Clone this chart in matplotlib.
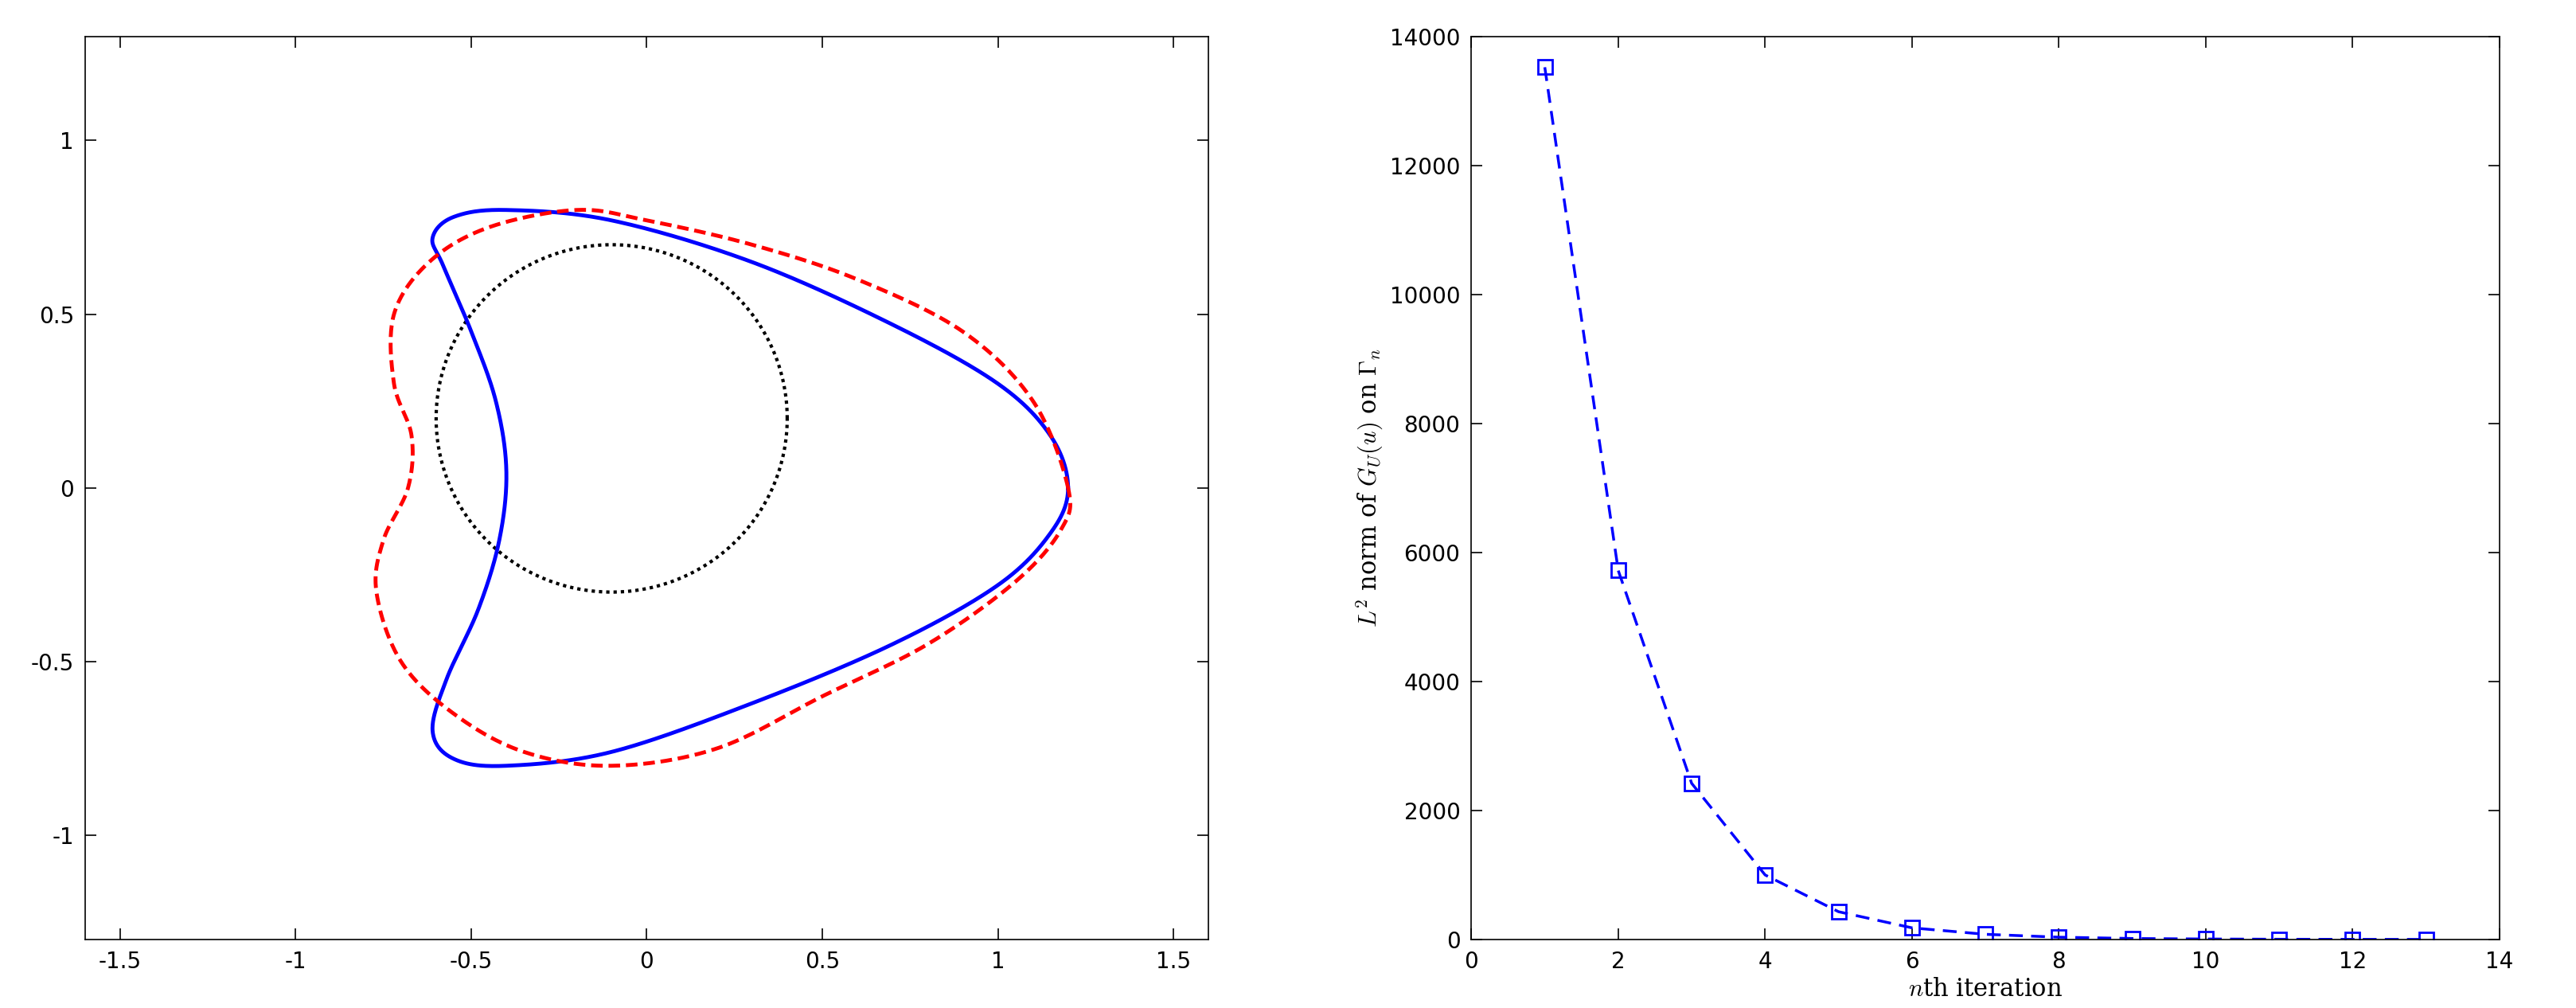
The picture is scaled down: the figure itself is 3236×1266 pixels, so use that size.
import numpy as np
import matplotlib
matplotlib.use("Agg")
import matplotlib.pyplot as plt

plt.rcParams['mathtext.fontset'] = 'cm'

# Circle (black dotted)
circle_center = (-0.1, 0.2)
circle_radius = 0.5

# Blue solid curve control points
blue_x = [1.2, 1.15, 1.0, 0.7, 0.3, -0.1, -0.4, -0.55, -0.61, -0.58, -0.5, -0.43, -0.4, -0.42, -0.48, -0.57, -0.61, -0.55, -0.4, -0.1, 0.3, 0.7, 1.0, 1.15]
blue_y = [0.0, 0.15, 0.3, 0.47, 0.65, 0.77, 0.8, 0.78, 0.72, 0.64, 0.45, 0.25, 0.05, -0.15, -0.35, -0.55, -0.7, -0.78, -0.8, -0.76, -0.62, -0.45, -0.28, -0.13]

# Red dashed curve control points
red_x = [1.2, 1.1, 0.9, 0.6, 0.3, 0.0, -0.2, -0.45, -0.62, -0.72, -0.72, -0.67, -0.68, -0.75, -0.77, -0.7, -0.55, -0.35, -0.1, 0.2, 0.5, 0.8, 1.05, 1.18]
red_y = [0.0, 0.25, 0.45, 0.6, 0.7, 0.77, 0.8, 0.75, 0.65, 0.5, 0.3, 0.15, 0.0, -0.15, -0.3, -0.5, -0.65, -0.76, -0.8, -0.75, -0.6, -0.45, -0.27, -0.12]

# Right panel
iterations = [1, 2, 3, 4, 5, 6, 7, 8, 9, 10, 11, 12, 13]
norms = [13520, 5720, 2420, 1000, 430, 180, 80, 35, 15, 7, 3, 1.5, 0.7]


def closed_spline(xs, ys, n=40):
    P = np.column_stack([xs, ys])
    N = len(P)
    out = []
    t = np.linspace(0, 1, n, endpoint=False)[:, None]
    for i in range(N):
        p0, p1, p2, p3 = P[i - 1], P[i], P[(i + 1) % N], P[(i + 2) % N]
        seg = 0.5 * ((2 * p1) + (-p0 + p2) * t + (2 * p0 - 5 * p1 + 4 * p2 - p3) * t ** 2
                     + (-p0 + 3 * p1 - 3 * p2 + p3) * t ** 3)
        out.append(seg)
    out = np.vstack(out)
    out = np.vstack([out, out[:1]])
    return out[:, 0], out[:, 1]


fig = plt.figure(figsize=(32.37, 12.66), dpi=100)
ax1 = fig.add_axes([0.033, 0.068, 0.436, 0.896])
ax2 = fig.add_axes([0.571, 0.068, 0.399, 0.896])

th = np.linspace(0, 2 * np.pi, 400)
ax1.plot(circle_center[0] + circle_radius * np.cos(th), circle_center[1] + circle_radius * np.sin(th),
         color='black', linestyle=(0, (1, 1.2)), linewidth=3)
bx, by = closed_spline(blue_x, blue_y)
ax1.plot(bx, by, color='#0000ff', linewidth=3.5)
rx, ry = closed_spline(red_x, red_y)
ax1.plot(rx, ry, color='#ff0000', linestyle=(0, (3, 1.5)), linewidth=3.5)
ax1.set_xlim(-1.6, 1.6)
ax1.set_ylim(-1.3, 1.3)
ax1.set_xticks([-1.5, -1, -0.5, 0, 0.5, 1, 1.5])
ax1.set_xticklabels(['-1.5', '-1', '-0.5', '0', '0.5', '1', '1.5'])
ax1.set_yticks([-1, -0.5, 0, 0.5, 1])
ax1.set_yticklabels(['-1', '-0.5', '0', '0.5', '1'])

ax2.plot(iterations, norms, color='#0000ff', linestyle=(0, (5, 3)), linewidth=2.5,
         marker='s', markersize=13, markerfacecolor='none', markeredgewidth=2)
ax2.set_xlim(0, 14)
ax2.set_ylim(0, 14000)
ax2.set_xticks(range(0, 15, 2))
ax2.set_yticks(range(0, 14001, 2000))
ax2.set_xlabel(r'$n$th iteration', fontsize=22, family='DejaVu Serif')
ax2.set_ylabel(r'$L^2$ norm of $G_U(u)$ on $\Gamma_n$', fontsize=22, family='DejaVu Serif')

for ax in (ax1, ax2):
    ax.tick_params(direction='in', top=True, right=True, labelsize=20, length=10, width=1.2, pad=10)
    for s in ax.spines.values():
        s.set_linewidth(1.2)

fig.savefig('out.png', dpi=100)
